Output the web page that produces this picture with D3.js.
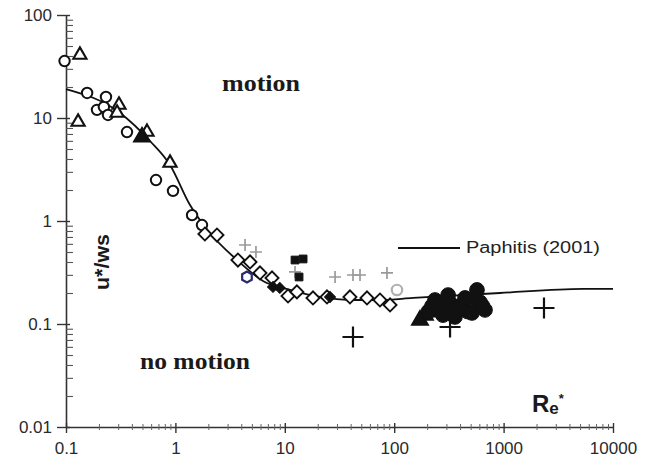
<!DOCTYPE html>
<html>
<head>
<meta charset="utf-8">
<script src="https://cdn.jsdelivr.net/npm/d3@7"></script>
<style>
  html, body { margin: 0; padding: 0; background: #fff; }
  svg { display: block; }
  .tick text { font-family: "Liberation Sans", Arial, sans-serif; font-size: 17px; fill: #2a2a2a; }
</style>
</head>
<body>
<svg id="chart" width="645" height="460"></svg>
<script>
// Threshold curve of Paphitis (2001): critical u*/ws against Re*
const curveRe = [0.1, 0.312, 0.586, 0.893, 1.36, 2.07, 3.66, 6.32, 11.2, 21.0, 39.4, 74.1, 149, 927, 5320, 10000];
const curveU  = [19.1, 11.2, 5.98, 3.50, 1.43, 0.765, 0.418, 0.262, 0.214, 0.183, 0.171, 0.171, 0.179, 0.200, 0.219, 0.219];

// Experimental thresholds, one pair of arrays per data set
const circleRe = [0.097, 0.156, 0.192, 0.222, 0.232, 0.242, 0.361, 0.665, 0.951, 1.42, 1.75];
const circleU  = [35.7, 17.5, 12.0, 12.8, 16.0, 10.7, 7.31, 2.50, 1.96, 1.14, 0.914];

const triangleRe = [0.134, 0.129, 0.305, 0.293, 0.55, 0.893];
const triangleU  = [40.9, 9.15, 13.4, 11.2, 7.31, 3.66];

const filledTriRe = [0.495, 172, 191, 212];
const filledTriU  = [6.54, 0.109, 0.122, 0.131];

const diamondRe = [1.86, 2.40, 3.73, 4.81, 5.93, 7.64, 10.7, 12.9, 18.1, 24.3, 39.4, 56.4, 74.1, 91.6];
const diamondU  = [0.748, 0.731, 0.418, 0.400, 0.313, 0.280, 0.187, 0.205, 0.179, 0.183, 0.183, 0.179, 0.171, 0.153];

const smallBlackRe = [7.8, 9.0, 25.9];
const smallBlackU  = [0.229, 0.224, 0.183];

const squareRe = [12.4, 14.7, 13.5];
const squareU  = [0.418, 0.428, 0.286];

const greyPlusRe = [4.33, 5.45, 12.4, 28.8, 42.0, 48.7, 85.9];
const greyPlusU  = [0.585, 0.50, 0.32, 0.286, 0.299, 0.299, 0.313];

const bigPlusRe = [42.0, 324, 2340];
const bigPlusU  = [0.0748, 0.0935, 0.143];

const dotRe = [205, 222, 236, 251, 265, 279, 298, 311, 324, 340, 359, 385, 417, 444, 470, 514, 540, 571, 608, 640, 676];
const dotU  = [0.132, 0.150, 0.171, 0.143, 0.160, 0.122, 0.140, 0.191, 0.160, 0.135, 0.117, 0.145, 0.153, 0.179, 0.132, 0.128, 0.178, 0.214, 0.163, 0.150, 0.137];

const hexRe = [4.51];
const hexU  = [0.286];

const greyCircleRe = [106];
const greyCircleU  = [0.214];

// Axis tick values
const xTicks = [0.1, 1, 10, 100, 1000, 10000];
const xTickLabels = ["0.1", "1", "10", "100", "1000", "10000"];
const yTicks = [0.01, 0.1, 1, 10, 100];
const yTickLabels = ["0.01", "0.1", "1", "10", "100"];

const svg = d3.select("#chart");
const plotLeft = 66, plotRight = 613, plotTop = 15, plotBottom = 427;

const x = d3.scaleLog().domain([0.1, 10000]).range([plotLeft, plotRight]);
const y = d3.scaleLog().domain([0.01, 100]).range([plotBottom, plotTop]);

const minorOf = (domain) => {
  const out = [];
  for (let e = Math.log10(domain[0]); e < Math.log10(domain[1]); e++) {
    for (let k = 2; k <= 9; k++) out.push(k * Math.pow(10, e));
  }
  return out;
};

// ---- axes ----
const axisColor = "#333";

const yAxis = svg.append("g").attr("transform", `translate(${plotLeft},0)`)
  .call(d3.axisLeft(y).tickValues(yTicks).tickSize(9).tickSizeOuter(0).tickPadding(5)
    .tickFormat((d, i) => yTickLabels[i]));
yAxis.select(".domain").attr("stroke", axisColor).attr("stroke-width", 1.6);
yAxis.selectAll(".tick line").attr("stroke", axisColor).attr("stroke-width", 1.4).attr("x2", -9).attr("x1", 4);

const yMinor = svg.append("g").attr("transform", `translate(${plotLeft},0)`)
  .call(d3.axisRight(y).tickValues(minorOf(y.domain())).tickSize(7).tickFormat(""));
yMinor.select(".domain").remove();
yMinor.selectAll(".tick line").attr("stroke", "#555").attr("stroke-width", 1.1);

const xAxis = svg.append("g").attr("transform", `translate(0,${plotBottom})`)
  .call(d3.axisBottom(x).tickValues(xTicks).tickSize(5).tickSizeOuter(0).tickPadding(10)
    .tickFormat((d, i) => xTickLabels[i]));
xAxis.select(".domain").attr("stroke", axisColor).attr("stroke-width", 1.6);
xAxis.selectAll(".tick line").attr("stroke", axisColor).attr("stroke-width", 1.4).attr("y1", -4).attr("y2", 6);

const xMinor = svg.append("g").attr("transform", `translate(0,${plotBottom})`)
  .call(d3.axisBottom(x).tickValues(minorOf(x.domain())).tickSize(3).tickFormat(""));
xMinor.select(".domain").remove();
xMinor.selectAll(".tick line").attr("stroke", "#666").attr("stroke-width", 1).attr("y1", -3);

// ---- threshold curve ----
const curvePts = curveRe.map((r, i) => [r, curveU[i]]);
svg.append("path")
  .datum(curvePts)
  .attr("fill", "none")
  .attr("stroke", "#111")
  .attr("stroke-width", 1.8)
  .attr("d", d3.line().x(d => x(d[0])).y(d => y(d[1])).curve(d3.curveMonotoneX));

// ---- markers ----
const plusType = {
  draw(ctx, size) {
    const a = Math.sqrt(size) / 2;
    ctx.moveTo(-a, 0); ctx.lineTo(a, 0);
    ctx.moveTo(0, -a); ctx.lineTo(0, a);
  }
};
const hexType = {
  draw(ctx, size) {
    const r = Math.sqrt(size / 2.598);
    for (let k = 0; k < 6; k++) {
      const t = Math.PI / 6 + k * Math.PI / 3;
      const px = r * Math.cos(t), py = r * Math.sin(t);
      if (k === 0) ctx.moveTo(px, py); else ctx.lineTo(px, py);
    }
    ctx.closePath();
  }
};

function drawSet(res, us, type, size, fill, stroke, width, rotate) {
  const pts = res.map((r, i) => [r, us[i]]);
  svg.append("g").selectAll("path")
    .data(pts)
    .join("path")
    .attr("transform", d => `translate(${x(d[0])},${y(d[1])})` + (rotate ? ` rotate(${rotate})` : ""))
    .attr("d", d3.symbol().type(type).size(size))
    .attr("fill", fill)
    .attr("stroke", stroke)
    .attr("stroke-width", width);
}

drawSet(greyPlusRe, greyPlusU, plusType, 144, "none", "#9a9a9a", 1.7);
drawSet(circleRe, circleU, d3.symbolCircle, 85, "#fff", "#111", 2);
drawSet(triangleRe, triangleU, d3.symbolTriangle, 75, "#fff", "#111", 2.1);
drawSet(diamondRe, diamondU, d3.symbolSquare, 85, "#fff", "#111", 1.9, 45);
drawSet(hexRe, hexU, hexType, 80, "#fff", "#2a2a70", 2.2);
drawSet(greyCircleRe, greyCircleU, d3.symbolCircle, 85, "#fff", "#b0b0b0", 2.2);
drawSet(smallBlackRe, smallBlackU, d3.symbolSquare, 60, "#111", "#111", 1, 45);
drawSet(squareRe, squareU, d3.symbolSquare, 60, "#111", "#111", 1);
drawSet(filledTriRe, filledTriU, d3.symbolTriangle, 120, "#111", "#111", 1.5);
drawSet(dotRe, dotU, d3.symbolCircle, 170, "#111", "#111", 1);
drawSet(bigPlusRe, bigPlusU, plusType, 441, "none", "#111", 2.2);

// ---- text ----
svg.append("text").attr("x", 222).attr("y", 91)
  .attr("font-family", "'Liberation Serif', 'Times New Roman', serif")
  .attr("font-weight", "bold").attr("font-size", 24)
  .attr("textLength", 78).attr("lengthAdjust", "spacingAndGlyphs")
  .attr("fill", "#1a1a1a").text("motion");

svg.append("text").attr("x", 140).attr("y", 369)
  .attr("font-family", "'Liberation Serif', 'Times New Roman', serif")
  .attr("font-weight", "bold").attr("font-size", 24)
  .attr("textLength", 110).attr("lengthAdjust", "spacingAndGlyphs")
  .attr("fill", "#1a1a1a").text("no motion");

svg.append("text")
  .attr("transform", "translate(109,262) rotate(-90)")
  .attr("text-anchor", "middle")
  .attr("font-family", "'Liberation Sans', Arial, sans-serif")
  .attr("font-weight", "bold").attr("font-size", 20)
  .attr("textLength", 56).attr("lengthAdjust", "spacingAndGlyphs")
  .attr("fill", "#1a1a1a").text("u*/ws");

const reLabel = svg.append("text")
  .attr("x", 532).attr("y", 412)
  .attr("font-family", "'Liberation Sans', Arial, sans-serif")
  .attr("font-weight", "bold").attr("fill", "#1a1a1a");
reLabel.append("tspan").attr("font-size", 24).text("R");
reLabel.append("tspan").attr("font-size", 17).attr("dy", 2).text("e");
reLabel.append("tspan").attr("font-size", 13).attr("dy", -11).text("*");

// ---- legend ----
svg.append("line").attr("x1", 398).attr("x2", 460).attr("y1", 248).attr("y2", 248)
  .attr("stroke", "#111").attr("stroke-width", 2);
svg.append("text").attr("x", 466).attr("y", 253)
  .attr("font-family", "'Liberation Sans', Arial, sans-serif").attr("font-size", 16)
  .attr("textLength", 134).attr("lengthAdjust", "spacingAndGlyphs")
  .attr("fill", "#222").text("Paphitis (2001)");
</script>
</body>
</html>
